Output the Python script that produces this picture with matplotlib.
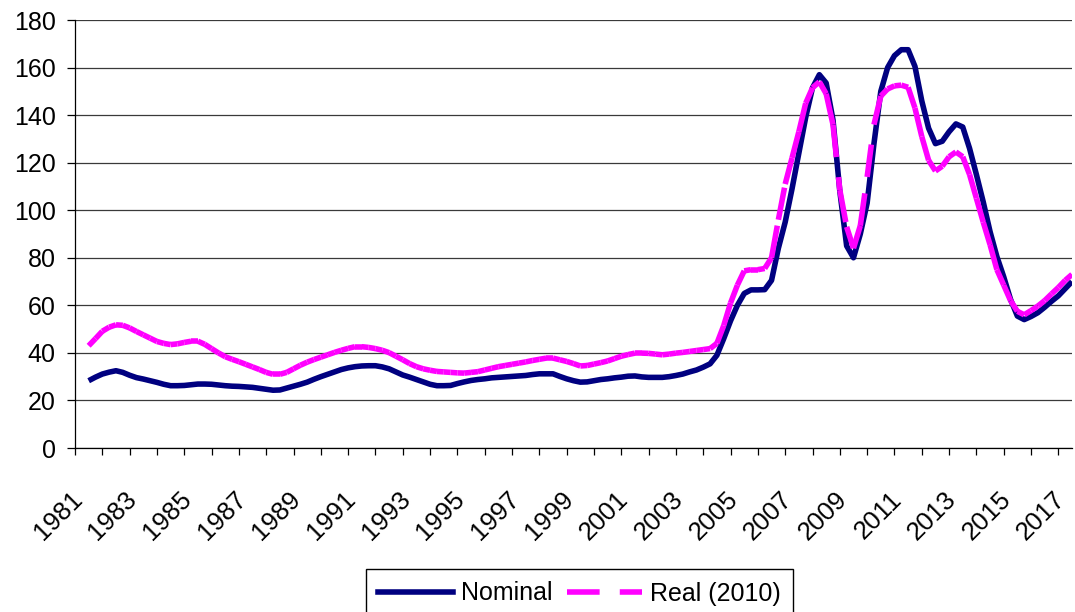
import numpy as np
import matplotlib
matplotlib.use("Agg")
import matplotlib.pyplot as plt
from matplotlib.collections import LineCollection
from matplotlib.lines import Line2D
from matplotlib.transforms import ScaledTranslation

plt.rcParams["font.family"] = ["Liberation Sans", "DejaVu Sans"]
plt.rcParams["lines.scale_dashes"] = False

# quarterly observations, 1981 Q3 .. 2017 Q3
start_year = 1981.5
nominal = [
    28.3, 29.8,                      # 1981
    31.1, 31.9, 32.5, 31.8,          # 1982
    30.6, 29.6, 29.0, 28.3,          # 1983
    27.6, 26.8, 26.2, 26.2,          # 1984
    26.3, 26.6, 26.9, 26.9,          # 1985
    26.8, 26.5, 26.2, 26.0,          # 1986
    25.9, 25.7, 25.5, 25.1,          # 1987
    24.7, 24.3, 24.4, 25.2,          # 1988
    26.0, 26.8, 27.7, 28.9,          # 1989
    30.0, 31.0, 32.0, 33.0,          # 1990
    33.7, 34.2, 34.5, 34.6,          # 1991
    34.6, 34.1, 33.3, 32.0,          # 1992
    30.7, 29.8, 28.8, 27.8,          # 1993
    26.8, 26.2, 26.2, 26.3,          # 1994
    27.1, 27.8, 28.4, 28.8,          # 1995
    29.1, 29.5, 29.7, 29.9,          # 1996
    30.1, 30.3, 30.5, 30.9,          # 1997
    31.2, 31.2, 31.2, 30.1,          # 1998
    29.1, 28.3, 27.7, 27.8,          # 1999
    28.3, 28.8, 29.1, 29.5,          # 2000
    29.8, 30.2, 30.3, 29.9,          # 2001
    29.7, 29.7, 29.7, 30.0,          # 2002
    30.5, 31.1, 32.0, 32.8,          # 2003
    34.0, 35.4, 39.0, 46.0,          # 2004
    53.5, 60.0, 65.0, 66.5,          # 2005
    66.5, 66.6, 70.5, 84.0,          # 2006
    95.0, 109.0, 124.0, 139.0,       # 2007
    151.5, 157.0, 153.5, 138.0,      # 2008
    108.0, 85.0, 80.0, 90.0,         # 2009
    103.0, 128.0, 150.0, 160.0,      # 2010
    165.0, 167.5, 167.5, 160.5,      # 2011
    146.0, 134.5, 128.0, 129.0,      # 2012
    133.0, 136.3, 135.0, 126.0,      # 2013
    115.0, 103.5, 91.0, 80.5,        # 2014
    72.0, 62.5, 55.5, 54.0,          # 2015
    55.3, 56.9, 59.2, 61.7,          # 2016
    64.0, 67.0, 70.0,                # 2017
]
real_2010 = [
    43.0, 46.0,                      # 1981
    49.1, 50.8, 51.8, 51.6,          # 1982
    50.5, 49.0, 47.6, 46.2,          # 1983
    44.8, 44.0, 43.5, 43.8,          # 1984
    44.4, 44.9, 44.9, 43.6,          # 1985
    41.8, 40.0, 38.4, 37.3,          # 1986
    36.3, 35.2, 34.1, 33.0,          # 1987
    31.8, 31.0, 31.0, 31.8,          # 1988
    33.3, 34.8, 36.1, 37.2,          # 1989
    38.2, 39.2, 40.2, 41.1,          # 1990
    41.9, 42.6, 42.6, 42.3,          # 1991
    41.8, 41.1, 40.1, 38.6,          # 1992
    37.1, 35.5, 34.2, 33.3,          # 1993
    32.7, 32.2, 32.0, 31.8,          # 1994
    31.6, 31.5, 31.8, 32.1,          # 1995
    32.8, 33.5, 34.2, 34.7,          # 1996
    35.2, 35.7, 36.2, 36.8,          # 1997
    37.3, 37.8, 37.8, 37.1,          # 1998
    36.4, 35.5, 34.5, 34.7,          # 1999
    35.3, 35.9, 36.6, 37.6,          # 2000
    38.6, 39.3, 39.9, 39.9,          # 2001
    39.8, 39.5, 39.2, 39.5,          # 2002
    39.9, 40.2, 40.6, 41.0,          # 2003
    41.4, 41.8, 44.0, 51.5,          # 2004
    61.0, 68.5, 74.5, 75.0,          # 2005
    75.0, 75.5, 80.0, 96.0,          # 2006
    111.0, 122.0, 133.0, 145.0,      # 2007
    151.5, 154.0, 149.0, 136.0,      # 2008
    108.5, 93.0, 84.0, 93.5,         # 2009
    114.0, 136.0, 148.0, 151.0,      # 2010
    152.3, 152.6, 151.7, 143.0,      # 2011
    131.0, 121.0, 116.5, 118.5,      # 2012
    122.5, 124.5, 122.5, 115.0,      # 2013
    105.0, 95.0, 85.5, 75.0,         # 2014
    68.5, 62.0, 57.5, 56.0,          # 2015
    57.8, 59.7, 62.0, 64.8,          # 2016
    67.5, 70.5, 73.0,                # 2017
]
label_years = list(range(1981, 2018, 2))
series_names = ["Nominal", "Real (2010)"]

NAVY = "#000080"
MAGENTA = "#FF00FF"
LW = 4.0
DASH = (0, (23.5, 14.5))

t = start_year + 0.25 * np.arange(len(nominal))

fig = plt.figure(figsize=(10.75, 6.12), dpi=100)
ax = fig.add_axes([75 / 1075, 1 - 448 / 612, 997 / 1075, 428 / 612])

ax.plot(t, nominal, color=NAVY, lw=LW, solid_joinstyle="round",
        solid_capstyle="butt", zorder=3)

# dashed series: pattern restarts on every segment
pts = np.column_stack([t, real_2010])
segs = np.stack([pts[:-1], pts[1:]], axis=1)
lc = LineCollection(segs, colors=MAGENTA, linewidths=LW, linestyles=[DASH],
                    capstyle="butt", joinstyle="round", zorder=4)
ax.add_collection(lc)

ax.set_xlim(1981, 2017.5)
ax.set_ylim(0, 180)
ax.set_yticks(range(0, 181, 20))
ax.set_xticks(range(1981, 2018))
ax.set_xticklabels([str(y) if y in label_years else "" for y in range(1981, 2018)],
                   rotation=45, ha="right", va="top", rotation_mode="anchor")
ax.tick_params(axis="x", direction="out", length=5, width=0.9, pad=23,
               labelsize=18.5)
ax.tick_params(axis="y", direction="out", length=6, width=0.9, pad=8,
               labelsize=18)
shift = ScaledTranslation(-5 / 100, 0, fig.dpi_scale_trans)
for lab in ax.get_xticklabels():
    lab.set_transform(lab.get_transform() + shift)
ax.grid(axis="y", color="#3a3a3a", lw=0.9)
ax.set_axisbelow(True)
for s in ("top", "right"):
    ax.spines[s].set_visible(False)
for s in ("left", "bottom"):
    ax.spines[s].set_color("black")
    ax.spines[s].set_linewidth(0.9)

handles = [Line2D([], [], color=NAVY, lw=LW),
           Line2D([], [], color=MAGENTA, lw=LW, linestyle=DASH,
                  dash_capstyle="butt")]
fig.legend(handles, series_names, ncol=2, loc="upper center",
           bbox_to_anchor=(579.5 / 1075, 1 - 569 / 612),
           bbox_transform=fig.transFigure, fontsize=18, frameon=True,
           fancybox=False, edgecolor="black", framealpha=1,
           handlelength=3.0, handletextpad=0.3, columnspacing=0.6,
           borderpad=0.5, borderaxespad=0)

fig.savefig("out.png", dpi=100)
